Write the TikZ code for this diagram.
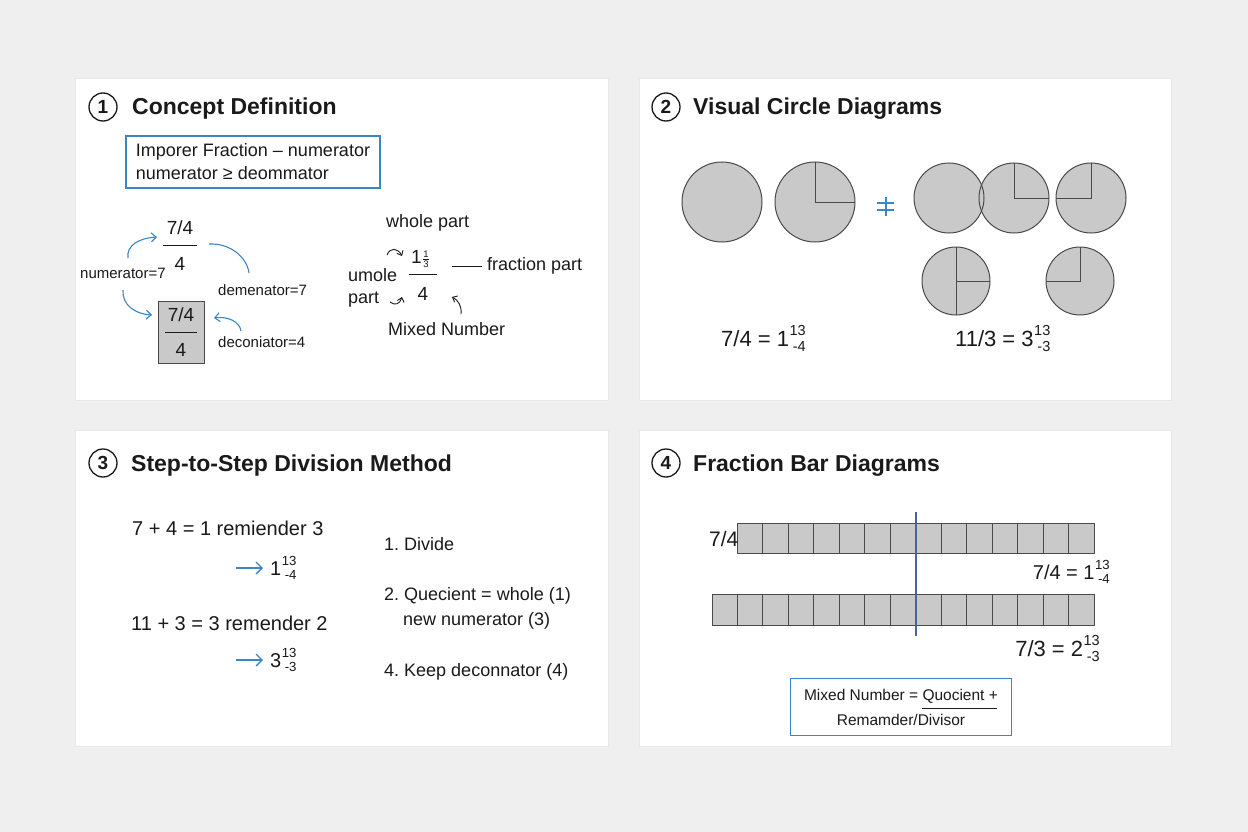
\documentclass[tikz,border=0pt]{standalone}
\usepackage{amsmath}
\usepackage{fontspec}
\setmainfont{Liberation Sans}
\usetikzlibrary{arrows.meta}
\definecolor{bg}{HTML}{EFEFEF}
\definecolor{accent}{HTML}{3A86C6}
\definecolor{pgray}{HTML}{C9C9C9}
\definecolor{dgray}{HTML}{4A4A4A}
\definecolor{txt}{HTML}{1A1A1A}
\definecolor{vline}{HTML}{4A6690}
\newcommand\mixfr[3]{#1\kern0.5pt\raisebox{-0.24em}{\scalebox{0.66}{\shortstack[r]{#2\\[0.22em]-#3}}}}
\newcommand\smfr[2]{$\scriptstyle\frac{\text{#1}}{\text{#2}}$}
\tikzset{
  panel/.style={fill=white, draw=black!9, line width=0.6pt},
  numc/.style={circle, draw=txt, line width=1.3pt, minimum size=28pt, inner sep=0pt, font=\fontsize{19}{20}\selectfont\bfseries},
  title/.style={anchor=base west, font=\fontsize{23}{26}\selectfont\bfseries},
  defbox/.style={draw=accent, line width=1.2pt, fill=white, align=left, inner xsep=6pt},
  lbl/.style={anchor=west, font=\fontsize{15}{18}\selectfont},
  mlbl/.style={anchor=west, font=\fontsize{18}{21}\selectfont},
  fr/.style={font=\fontsize{19}{21}\selectfont},
  fbar/.style={draw=txt, line width=1pt},
  gbox/.style={fill=pgray, draw=dgray, line width=1pt, minimum width=46pt, minimum height=62pt},
  barrow/.style={draw=accent, line width=1.1pt, -{Straight Barb[length=5pt,width=9pt]}},
  barc/.style={draw=accent, line width=1.1pt},
  sarrow/.style={draw=accent, line width=1.4pt, -{Straight Barb[length=6pt,width=12pt]}},
  karrow/.style={draw=txt, line width=0.9pt, -{Straight Barb[length=4pt,width=7pt]}},
  pie/.style={fill=pgray},
  pieline/.style={draw=dgray, line width=1pt},
  eq/.style={font=\fontsize{20}{24}\selectfont},
  listtxt/.style={anchor=west, font=\fontsize{18}{21}\selectfont},
  cell/.style={fill=pgray, draw=dgray, line width=0.9pt},
}
\begin{document}
\frenchspacing
\begin{tikzpicture}[x=1pt,y=-1pt, every node/.style={text=txt, inner sep=0pt}]
\fill[bg] (0,0) rectangle (1248,832);
\useasboundingbox (0,0) rectangle (1248,832);
% panels
\foreach \x/\y/\w/\h in {75/78/533/322, 639/78/532/322, 75/430/533/316, 639/430/532/316}{
  \fill[black!5] (\x+1,\y+2) rectangle ++(\w,\h);
  \draw[panel] (\x,\y) rectangle ++(\w,\h);
}
% titles
\node[numc] (c1) at (103,107) {1};
\node[title] (t1) at (132,115) {Concept Definition};
\node[numc] (c2) at (666,107) {2};
\node[title] (t2) at (693,115) {Visual Circle Diagrams};
\node[numc] (c3) at (103,463) {3};
\node[title] (t3) at (131,471) {Step-to-Step Division Method};
\node[numc] (c4) at (666,463) {4};
\node[title] (t4) at (693,471) {Fraction Bar Diagrams};

% ---------- panel 1
\node[defbox, minimum width=254pt, minimum height=52pt, font=\fontsize{18}{23}\selectfont] (def) at (253,162) {Imporer Fraction – numerator\\numerator ≥ deommator};
\node[fr] (fa) at (180,228) {7/4};
\draw[fbar] (163,245) -- (197,245);
\node[fr] (fb) at (180,264) {4};
\node[lbl] (lnum) at (80,273) {numerator=7};
\node[lbl] (lden) at (218,290) {demenator=7};
\node[gbox] (gb) at (181,332) {};
\node[fr] (ga) at (181,315) {7/4};
\draw[fbar] (165,332) -- (197,332);
\node[fr] (gc) at (181,350) {4};
\node[lbl] (ldec) at (218,342) {deconiator=4};
\coordinate (a1s) at (128,258); \coordinate (a1e) at (157,237);
\coordinate (a2s) at (209,244); \coordinate (a2e) at (249,273);
\coordinate (a3s) at (123,290); \coordinate (a3e) at (152,315);
\coordinate (a4s) at (241,331); \coordinate (a4e) at (214,318);
\draw[barrow] (a1s) .. controls (126,245) and (140,238) .. (a1e);
\draw[barc] (a2s) .. controls (230,243) and (247,257) .. (a2e);
\draw[barrow] (a3s) .. controls (122,305) and (135,314) .. (a3e);
\draw[barrow] (a4s) .. controls (240,322) and (228,316) .. (a4e);

\node[mlbl] (wp) at (386,223) {whole part};
\node[fr, anchor=base west] (mtop) at (411,263) {1\kern0.5pt\smfr{1}{3}};
\draw[fbar] (409,274) -- (437,274);
\node[fr] (mbot) at (423,294) {4};
\node[mlbl] (fp) at (487,266) {fraction part};
\draw[draw=txt, line width=0.8pt] ([xshift=-5pt]fp.west) -- ([xshift=-35pt]fp.west);
\node[mlbl] (um) at (348,275) {umole};
\node[mlbl] (pt) at (348,300) {part};
\node[mlbl] (mn) at (388,329) {Mixed Number};
\coordinate (k1s) at (387,255); \coordinate (k1e) at (402,256);
\coordinate (k2s) at (390,302); \coordinate (k2e) at (402,297);
\coordinate (k3s) at (461,314); \coordinate (k3e) at (452,297);
\draw[karrow] (k1s) .. controls (390,247) and (398,248) .. (k1e);
\draw[karrow] (k2s) .. controls (395,306) and (400,304) .. (k2e);
\draw[karrow] (k3s) .. controls (462,306) and (458,300) .. (k3e);

% ---------- panel 2
\fill[pie] (722,202) circle[radius=40];
\fill[pie] (815,202) circle[radius=40];
\draw[pieline] (722,202) circle[radius=40];
\draw[pieline] (815,202) circle[radius=40];
\draw[pieline] (815,162) -- (815,202) -- (855,202);
\draw[accent, line width=1.3pt] (877,203) -- (894,203) (877,210) -- (894,210) (886,197) -- (886,216);
\foreach \cx/\cy/\r in {949/198/35, 1014/198/35, 1091/198/35, 956/281/34, 1080/281/34}{
  \fill[pie] (\cx,\cy) circle[radius=\r];
}
\foreach \cx/\cy/\r in {949/198/35, 1014/198/35, 1091/198/35, 956/281/34, 1080/281/34}{
  \draw[pieline] (\cx,\cy) circle[radius=\r];
}
\draw[pieline] (1014,163) -- (1014,198) -- (1049,198);
\draw[pieline] (1091,163) -- (1091,198) -- (1056,198);
\draw[pieline] (956,247) -- (956,315) (956,281) -- (990,281);
\draw[pieline] (1080,247) -- (1080,281) -- (1046,281);
\node[font=\fontsize{22}{26}\selectfont, anchor=base west] (e1) at (721,346) {7/4 = \mixfr{1}{13}{4}};
\node[font=\fontsize{22}{26}\selectfont, anchor=base west] (e2) at (955,346) {11/3 = \mixfr{3}{13}{3}};

% ---------- panel 3
\node[eq, anchor=base west] (s1) at (132,535) {7 + 4 = 1 remiender 3};
\node[eq, anchor=base west] (r1) at (270,575) {\mixfr{1}{13}{4}};
\coordinate (ar1s) at (236,568); \coordinate (ar1e) at (263,568);
\draw[sarrow] (ar1s) -- (ar1e);
\node[eq, anchor=base west] (s2) at (131,630) {11 + 3 = 3 remender 2};
\node[eq, anchor=base west] (r2) at (270,667) {\mixfr{3}{13}{3}};
\coordinate (ar2s) at (236,660); \coordinate (ar2e) at (263,660);
\draw[sarrow] (ar2s) -- (ar2e);
\node[listtxt] (l1) at (384,544) {1. Divide};
\node[listtxt] (l2) at (384,596) {2. Quecient = whole (1)};
\node[listtxt] (l3) at (403,621) {new numerator (3)};
\node[listtxt] (l4) at (384,672) {4. Keep deconnator (4)};

% ---------- panel 4
\foreach \i in {0,...,13}{
  \draw[cell] (737+\i*25.5,523) rectangle ++(25.5,30);
}
\foreach \i in {0,...,14}{
  \draw[cell] (712+\i*25.47,594) rectangle ++(25.47,31);
}
\draw[vline, line width=1.3pt] (916,512) -- (916,636);
\node[font=\fontsize{21}{24}\selectfont, anchor=west] (b1) at (709,539) {7/4};
\node[font=\fontsize{20}{24}\selectfont, anchor=base east] (b2) at (1110,579) {7/4 = \mixfr{1}{13}{4}};
\node[font=\fontsize{22}{26}\selectfont, anchor=base east] (b3) at (1100,656) {7/3 = \mixfr{2}{13}{3}};
\node[defbox, align=center, minimum width=221pt, minimum height=57pt, font=\fontsize{15.5}{25}\selectfont] (form) at (901,707) {Mixed Number = Quocient +\\Remamder/Divisor};
\draw[draw=txt, line width=0.7pt] (922,708) -- (997,708);
\end{tikzpicture}
\end{document}
